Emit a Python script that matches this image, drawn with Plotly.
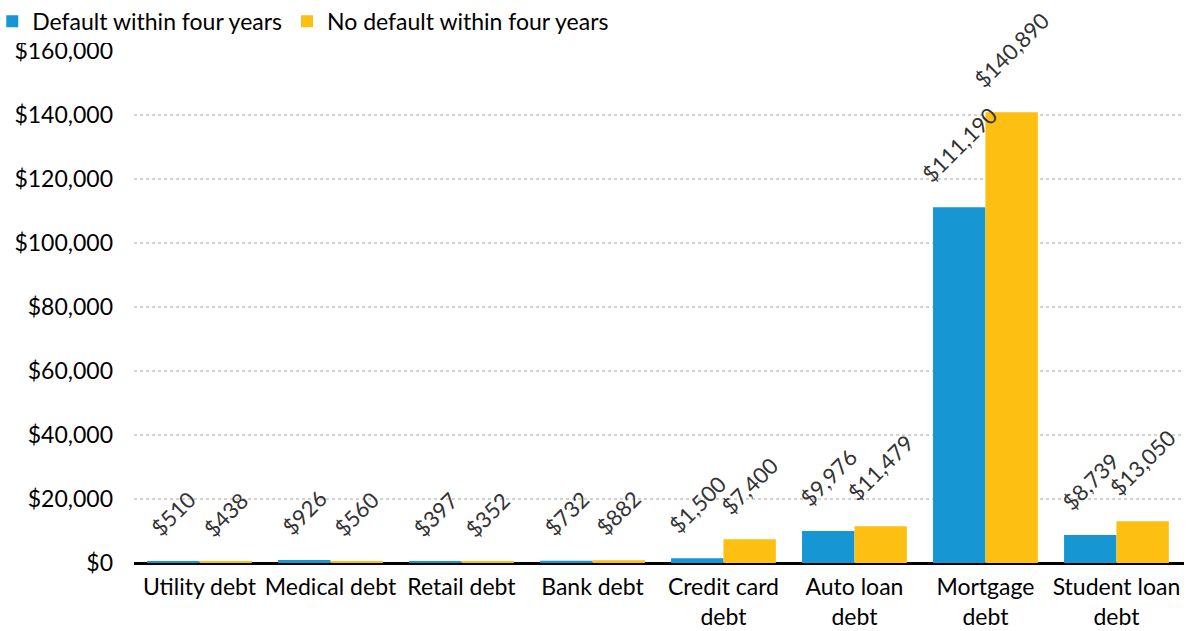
import plotly.graph_objects as go

# Debt categories and average balances for the two borrower groups
categories = ["Utility debt", "Medical debt", "Retail debt", "Bank debt",
              "Credit card<br>debt", "Auto loan<br>debt", "Mortgage<br>debt",
              "Student loan<br>debt"]
default_vals = [510, 926, 397, 732, 1500, 9976, 111190, 8739]
no_default_vals = [438, 560, 352, 882, 7400, 11479, 140890, 13050]
series_names = ["Default within four years", "No default within four years"]
y_ticks = [0, 20000, 40000, 60000, 80000, 100000, 120000, 140000, 160000]
y_tick_text = [f"${v:,}" for v in y_ticks]

BLUE = "#1696D2"
YELLOW = "#FDBF11"
FONT = "Lato, 'Noto Sans', sans-serif"
BARGAP = 0.2

fig = go.Figure()
fig.add_bar(x=categories, y=default_vals, name=series_names[0],
            marker=dict(color=BLUE, line=dict(width=0)))
fig.add_bar(x=categories, y=no_default_vals, name=series_names[1],
            marker=dict(color=YELLOW, line=dict(width=0)))

# Rotated value labels above each bar
half = (1 - BARGAP) / 4
for i in range(len(categories)):
    for vals, off in ((default_vals, -half), (no_default_vals, half)):
        fig.add_annotation(
            x=i + off, y=vals[i], xref="x", yref="y",
            text=f"${vals[i]:,}", textangle=-45, showarrow=False,
            xanchor="center", yanchor="bottom", yshift=17,
            font=dict(family=FONT, size=22, color="#333333"),
        )

fig.update_layout(
    width=1189, height=631,
    margin=dict(l=134, r=5, t=51, b=68, autoexpand=False),
    paper_bgcolor="white", plot_bgcolor="white",
    barmode="group", bargap=BARGAP, bargroupgap=0,
    font=dict(family=FONT, size=23, color="#000000"),
    showlegend=True,
    legend=dict(orientation="h", xref="paper", yref="paper",
                x=-0.135, y=1.1, xanchor="left", yanchor="top",
                font=dict(size=23), itemwidth=30,
                tracegroupgap=0, traceorder="normal"),
    xaxis=dict(type="category", showgrid=False, ticks="",
               tickfont=dict(size=23), showline=False,
               ticklabelstandoff=8),
    yaxis=dict(range=[0, 160000], tickvals=y_ticks, ticktext=y_tick_text,
               showgrid=True, gridcolor="#d2d2d2",
               griddash="3px,3px", gridwidth=2, zeroline=True,
               zerolinecolor="#000000", zerolinewidth=3,
               tickfont=dict(size=23), ticks="", ticklabelstandoff=20),
)

fig.write_html("out.html")
